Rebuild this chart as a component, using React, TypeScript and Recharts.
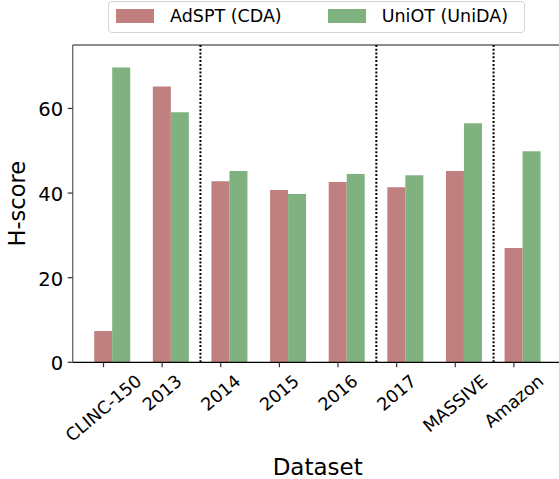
import React from 'react';
import { BarChart, Bar, XAxis, YAxis, ReferenceLine, Legend } from 'recharts';

const categories = ['CLINC-150', '2013', '2014', '2015', '2016', '2017', 'MASSIVE', 'Amazon'];
const adsptValues = [7.4, 65.2, 42.8, 40.7, 42.6, 41.4, 45.2, 27.0];
const uniotValues = [69.7, 59.1, 45.2, 39.8, 44.5, 44.2, 56.5, 49.9];
const yTicks = [0, 20, 40, 60];
const yMax = 75;
const separatorsAfter = ['2013', '2016', 'MASSIVE'];
const seriesNames = ['AdSPT (CDA)', 'UniOT (UniDA)'];

const RED = '#c0807f';
const GREEN = '#80b280';
const FONT = 'DejaVu Sans';
const XFS = 17.5;
const YFS = 19.5;

const data = categories.map((name, i) => ({
  name,
  adspt: adsptValues[i],
  uniot: uniotValues[i],
}));

let ctx: CanvasRenderingContext2D | null = null;
function measure(text: string, fs: number): number {
  if (!ctx) {
    const c = document.createElement('canvas');
    ctx = c.getContext('2d');
  }
  if (!ctx) return text.length * fs * 0.6;
  ctx.font = `${fs}px "${FONT}"`;
  return ctx.measureText(text).width;
}

const XTick = (props: any) => {
  const { x, y, payload } = props;
  const tx = x - 9;
  const w = measure(String(payload.value), XFS);
  const h = 1.164 * XFS;
  const a = (40 * Math.PI) / 180;
  const H = w * Math.sin(a) + h * Math.cos(a);
  const top = y + 4.9 + 3.5;
  const cy = top + H / 2;
  return (
    <g>
      <line x1={tx} y1={y} x2={tx} y2={y + 4.9} stroke="#333" strokeWidth={1.2} />
      <text
        x={tx}
        y={cy + 0.346 * XFS}
        textAnchor="middle"
        transform={`rotate(-40, ${tx}, ${cy})`}
        fontFamily={FONT}
        fontSize={XFS}
        fill="#000"
      >
        {payload.value}
      </text>
    </g>
  );
};

const YTick = (props: any) => {
  const { x, y, payload } = props;
  return (
    <text x={x} y={y + 8} textAnchor="end" fontFamily={FONT} fontSize={YFS} fill="#000">
      {payload.value}
    </text>
  );
};

const LegendBox = () => (
  <div
    style={{
      position: 'relative',
      width: 417,
      height: 32,
      border: '1px solid #d4d4d4',
      borderRadius: 4,
      boxSizing: 'border-box',
      background: '#fff',
      fontFamily: FONT,
      fontSize: 17.5,
      color: '#000',
    }}
  >
    <div style={{ position: 'absolute', left: 7, top: 7, width: 38, height: 13.5, background: RED }} />
    <div style={{ position: 'absolute', left: 61, top: 0, lineHeight: '28px', whiteSpace: 'nowrap' }}>{seriesNames[0]}</div>
    <div style={{ position: 'absolute', left: 219, top: 7, width: 38, height: 13.5, background: GREEN }} />
    <div style={{ position: 'absolute', left: 272.7, top: 0, lineHeight: '28px', whiteSpace: 'nowrap' }}>{seriesNames[1]}</div>
  </div>
);

export default function App() {
  return (
    <div style={{ position: 'absolute', left: 0, top: 0, width: 559, height: 479, overflow: 'hidden', background: '#fff' }}>
      <div style={{ width: 570, height: 479 }}>
        <BarChart
          width={570}
          height={479}
          data={data}
          margin={{ top: 45, right: 7.3, bottom: 0, left: 0 }}
          barGap={0}
          barSize={18}
        >
          <XAxis
            dataKey="name"
            height={116.7}
            interval={0}
            tickSize={0}
            tickMargin={0}
            tickLine={false}
            tick={<XTick />}
            axisLine={{ stroke: '#000', strokeWidth: 1.3 }}
            padding={{ left: 10.5, right: 10.5 }}
            label={(p: any) => (
              <text x={317.7} y={475} textAnchor="middle" fontFamily={FONT} fontSize={23} fill="#000">
                Dataset
              </text>
            )}
          />
          <YAxis
            width={72.7}
            domain={[0, yMax]}
            ticks={yTicks}
            interval={0}
            tickSize={5}
            tickMargin={4.5}
            tickLine={{ stroke: '#333', strokeWidth: 1.2 }}
            axisLine={{ stroke: '#666', strokeWidth: 1.3 }}
            tick={<YTick />}
            label={(p: any) => (
              <text
                x={25}
                y={203.7}
                textAnchor="middle"
                transform="rotate(-90, 25, 203.7)"
                fontFamily={FONT}
                fontSize={22.5}
                fill="#000"
              >
                H-score
              </text>
            )}
          />
          <Legend
            layout="horizontal"
            verticalAlign="middle"
            align="center"
            content={<LegendBox />}
            wrapperStyle={{ top: 1, left: 108, width: 417, height: 32 }}
          />
          <Bar dataKey="adspt" name={seriesNames[0]} fill={RED} isAnimationActive={false} />
          <Bar dataKey="uniot" name={seriesNames[1]} fill={GREEN} isAnimationActive={false} />
          <ReferenceLine y={yMax} stroke="#666" strokeWidth={1.3} />
          {separatorsAfter.map((c) => (
            <ReferenceLine
              key={c}
              x={c}
              position="end"
              stroke="#000"
              strokeWidth={2}
              strokeDasharray="2 1.8"
            />
          ))}
        </BarChart>
      </div>
    </div>
  );
}
